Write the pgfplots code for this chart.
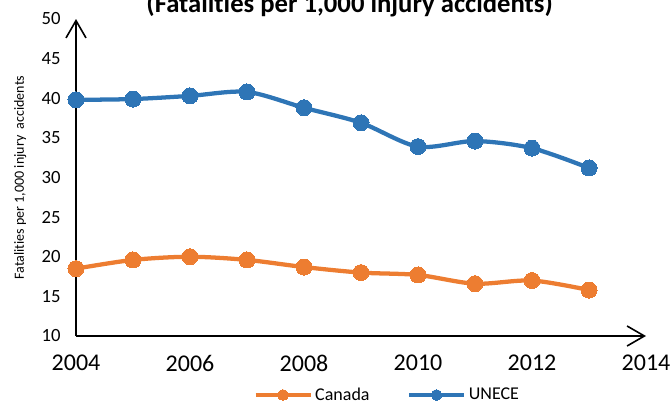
\documentclass[border=0pt]{standalone}
\usepackage{fontspec}
\setmainfont{Carlito}[Ligatures=NoCommon]
\usepackage{pgfplots}
\pgfplotsset{compat=1.18}
\usetikzlibrary{arrows.meta}
\definecolor{cblue}{RGB}{46,117,182}
\definecolor{corange}{RGB}{237,125,49}
\begin{document}
\begin{tikzpicture}
\begin{axis}[
  scale only axis,
  width=427.5pt, height=237.75pt,
  xmin=2004, xmax=2014, ymin=10, ymax=50,
  axis lines=left,
  axis line style={line width=1.2pt, -{Straight Barb[length=13pt,width=15pt,line width=1.2pt]}},
  xtick={2004,2006,...,2014},
  ytick={10,15,...,50},
  major tick length=0pt,
  /pgf/number format/assume math mode=true,
  /pgf/number format/1000 sep={},
  xticklabel style={font=\fontsize{18}{21}\selectfont, yshift=-11pt},
  yticklabel style={font=\fontsize{14}{17}\selectfont, xshift=-8pt},
  ylabel={Fatalities per 1,000 injury\ \ accidents},
  every axis y label/.style={at={(axis description cs:-0.098,0.5)}, rotate=90, anchor=center, font=\fontsize{10.5}{12}\selectfont},
  legend columns=2,
  legend style={draw=none, fill=none, at={(axis description cs:0.5465,-0.186)}, anchor=center,
    font=\fontsize{13.5}{16}\selectfont,
    /tikz/every even column/.append style={column sep=26pt}},
  legend image code/.code={\draw[mark repeat=2,mark phase=2,mark size=4pt,#1] plot coordinates {(0pt,0pt) (20.6pt,0pt) (41.2pt,0pt)};},
  clip=false,
]
\addplot[corange, line width=3.2pt, smooth, mark=*, mark size=6pt, mark options={solid, fill=corange, draw=corange, line width=0pt}]
  coordinates {(2004,18.5) (2005,19.6) (2006,20.0) (2007,19.6) (2008,18.7) (2009,18.0) (2010,17.7) (2011,16.6) (2012,17.0) (2013,15.8)};
\addlegendentry{Canada}
\addplot[cblue, line width=3.2pt, smooth, mark=*, mark size=6pt, mark options={solid, fill=cblue, draw=cblue, line width=0pt}]
  coordinates {(2004,39.8) (2005,39.9) (2006,40.3) (2007,40.8) (2008,38.8) (2009,36.9) (2010,33.9) (2011,34.6) (2012,33.7) (2013,31.2)};
\addlegendentry{UNECE}
\node[anchor=base, font=\bfseries\fontsize{20}{24}\selectfont] at (axis description cs:0.48,1.0221) {(Fatalities per 1,000 injury accidents)};
\end{axis}
\pgfresetboundingbox
\path[use as bounding box] (-57pt,-51pt) rectangle (447pt,252pt);
\end{tikzpicture}
\end{document}
